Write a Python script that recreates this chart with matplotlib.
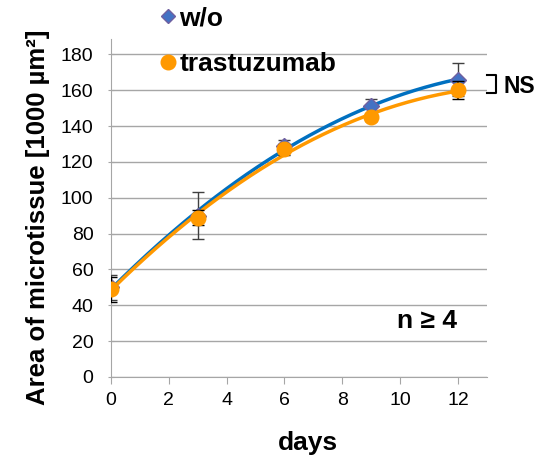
import numpy as np
import matplotlib.pyplot as plt
from matplotlib.lines import Line2D

plt.rcParams['font.family'] = ['Liberation Sans', 'DejaVu Sans']

days = [0, 3, 6, 9, 12]
wo = [50, 90, 129, 151, 166]
wo_err = [7, 13, 3, 4, 9]
tras = [49, 89, 127, 145, 160]
tras_err = [7, 4, 3, 2, 5]

blue_line = '#0070C0'
blue_mark = '#4472C4'
orange = '#FF9900'
grey = '#A6A6A6'

fig = plt.figure(figsize=(5.52, 4.62), dpi=100)
ax = fig.add_axes([0.201, 0.184, 0.681, 0.731])

# quadratic trendlines (like Excel polynomial order 2)
xs = np.linspace(0, 12, 200)
p_wo = np.polyfit(days, wo, 2)
p_tr = np.polyfit(days, tras, 2)
ax.plot(xs, np.polyval(p_wo, xs), color=blue_line, lw=2.5, zorder=3)
ax.plot(xs, np.polyval(p_tr, xs), color=orange, lw=2.5, zorder=3)

ax.errorbar(days, wo, yerr=wo_err, fmt='D', ms=8, color=blue_mark,
            mec='#7060A0', ecolor='#404040', elinewidth=1, capsize=4, zorder=4)
ax.errorbar(days, tras, yerr=tras_err, fmt='o', ms=10.5, color=orange,
            ecolor='black', elinewidth=1.5, capsize=4, zorder=5)

ax.set_xlim(0, 13)
ax.set_ylim(0, 188.5)
ax.set_xticks(range(0, 13, 2))
ax.set_yticks(range(0, 181, 20))
ax.grid(axis='y', color=grey, lw=1)
ax.set_axisbelow(True)
for s in ['top', 'right']:
    ax.spines[s].set_visible(False)
for s in ['left', 'bottom']:
    ax.spines[s].set_color(grey)
ax.tick_params(axis='both', colors=grey, labelcolor='black', labelsize=14,
               length=5, direction='inout')
ax.tick_params(axis='y', pad=10)
ax.tick_params(axis='x', direction='out', pad=6)

ax.set_xlabel('days', fontsize=19, fontweight='bold')
ax.xaxis.set_label_coords(0.524, -0.16)
ax.set_ylabel('Area of microtissue [1000 µm²]', fontsize=18.5, fontweight='bold', va='center')
ax.yaxis.set_label_coords(-0.194, 0.472)

ax.text(0.92, 0.166, 'n ≥ 4', transform=ax.transAxes, fontsize=19,
        fontweight='bold', ha='right', va='center')

# NS bracket
fig.text(0.913, 0.813, 'NS', fontsize=16.5, fontweight='bold', va='center')
fig.lines.append(Line2D([0.882, 0.899, 0.899, 0.882], [0.838, 0.838, 0.799, 0.799],
                        transform=fig.transFigure, color='black', lw=1.5))

handles = [Line2D([], [], marker='D', ls='none', ms=7, color=blue_mark, mec='#7060A0'),
           Line2D([], [], marker='o', ls='none', ms=10.5, color=orange)]
fig.legend(handles, ['w/o', 'trastuzumab'], loc='upper left',
           bbox_to_anchor=(0.275, 0.997), borderaxespad=0, borderpad=0.2,
           frameon=False, handletextpad=0.05, handlelength=0.8,
           labelspacing=0.8, prop={'size': 19, 'weight': 'bold'})

fig.savefig('out.png', dpi=100)
